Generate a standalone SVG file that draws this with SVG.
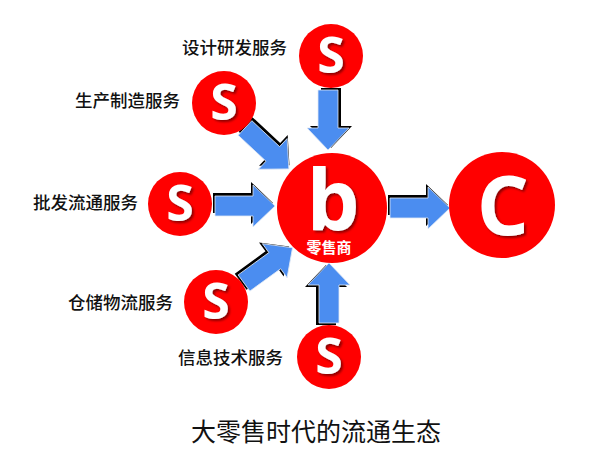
<svg xmlns="http://www.w3.org/2000/svg" width="600" height="464" viewBox="0 0 600 464" xmlns:xlink="http://www.w3.org/1999/xlink">
<style>
.ring{fill:#ff0000}
.let{font-family:"Open Sans","Liberation Sans",sans-serif;font-weight:700;fill:#ffffff;text-anchor:middle;filter:url(#tsh)}
.lbl{font-family:"Noto Sans CJK SC","Noto Sans",sans-serif;font-size:17.5px;font-weight:500;fill:#111111}
.title{font-family:"Noto Sans CJK SC","Noto Sans",sans-serif;font-size:25px;fill:#111111;text-anchor:middle}
.sub{font-family:"Noto Sans CJK SC",sans-serif;font-size:15px;font-weight:700;fill:#ffffff;text-anchor:middle}
.ab{fill:#000000}
.af{fill:#4b8df0;stroke:#dfe8f5;stroke-width:0.8}
</style>
<defs>
<filter id="tsh" x="-20%" y="-20%" width="150%" height="150%">
<feDropShadow dx="2" dy="2" stdDeviation="0.8" flood-color="#6a0000" flood-opacity="0.75"/>
</filter>
<path id="arr" d="M0,-10 L38,-10 L38,-21 L60,0 L38,21 L38,10 L0,10 Z"/>
<g id="barrow">
<use xlink:href="#arr" class="ab" transform="translate(-2,-3)"/>
<use xlink:href="#arr" class="af"/>
</g>
</defs>
<rect width="600" height="464" fill="#ffffff"/>
<g id="connectors">
<use xlink:href="#barrow" transform="translate(328,90) rotate(90)"/>
<use xlink:href="#barrow" transform="translate(245,128) rotate(43)"/>
<use xlink:href="#barrow" transform="translate(215,206)"/>
<use xlink:href="#barrow" transform="translate(244,283) rotate(-36)"/>
<use xlink:href="#barrow" transform="translate(329,323) rotate(-90)"/>
<use xlink:href="#barrow" transform="translate(390,208)"/>
</g>
<g id="s-design">
<circle class="ring" cx="331" cy="56" r="32"/>
<text class="let" x="331" y="73" font-size="50">S</text>
<text class="lbl" x="182" y="54">设计研发服务</text>
</g>
<g id="s-production">
<circle class="ring" cx="224" cy="103" r="32"/>
<text class="let" x="224" y="120" font-size="50">S</text>
<text class="lbl" x="75" y="107">生产制造服务</text>
</g>
<g id="s-wholesale">
<circle class="ring" cx="180" cy="204" r="32"/>
<text class="let" x="180" y="221" font-size="50">S</text>
<text class="lbl" x="33" y="209">批发流通服务</text>
</g>
<g id="s-logistics">
<circle class="ring" cx="216" cy="302" r="32"/>
<text class="let" x="216" y="319" font-size="50">S</text>
<text class="lbl" x="68" y="309">仓储物流服务</text>
</g>
<g id="s-it">
<circle class="ring" cx="329" cy="357" r="32"/>
<text class="let" x="329" y="374" font-size="50">S</text>
<text class="lbl" x="178" y="364">信息技术服务</text>
</g>
<g id="b-retailer">
<circle class="ring" cx="332" cy="208" r="55"/>
<text class="let" x="333" y="230" font-size="84">b</text>
<text class="sub" x="329" y="253">零售商</text>
</g>
<g id="c-consumer">
<circle class="ring" cx="502" cy="205" r="53"/>
<text class="let" x="503" y="235" font-size="82">C</text>
</g>
<text class="title" x="316" y="441">大零售时代的流通生态</text>
</svg>
